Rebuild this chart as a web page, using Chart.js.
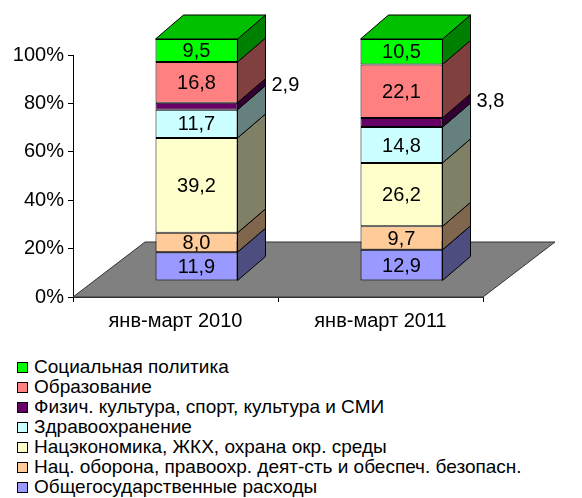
<!DOCTYPE html>
<html>
<head>
<meta charset="utf-8">
<script src="https://cdn.jsdelivr.net/npm/chart.js@4.4.1/dist/chart.umd.min.js"></script>
<style>
    body { margin: 0; background: #fff; }
    #wrap { position: relative; width: 582px; height: 498px; font-family: "Liberation Sans", Arial, sans-serif; }
    #chart { position: absolute; left: 0; top: 0; }
    #legend { position: absolute; left: 17px; top: 357px; margin: 0; padding: 0; list-style: none; }
    #legend li { height: 20px; line-height: 20px; font-size: 19px; color: #000; white-space: nowrap; }
    #legend .box { display: inline-block; width: 9px; height: 9px; border: 1px solid #000; margin-right: 6px; vertical-align: 0px; }
</style>
</head>
<body>
<div id="wrap">
    <canvas id="chart" width="582" height="340"></canvas>
    <ul id="legend"></ul>
</div>
<script>
const categories = ['янв-март 2010', 'янв-март 2011'];

// stack order, bottom to top
const general = [11.9, 12.9];
const defense = [8.0, 9.7];
const economy = [39.2, 26.2];
const health = [11.7, 14.8];
const sport = [2.9, 3.8];
const education = [16.8, 22.1];
const social = [9.5, 10.5];

const yTicks = [0, 20, 40, 60, 80, 100];

const series = [
    { label: 'Общегосударственные расходы', data: general, front: '#9999FF', side: '#4D4D80' },
    { label: 'Нац. оборона, правоохр. деят-сть и обеспеч. безопасн.', data: defense, front: '#FFCC99', side: '#80664D' },
    { label: 'Нацэкономика, ЖКХ, охрана окр. среды', data: economy, front: '#FFFFCC', side: '#808066' },
    { label: 'Здравоохранение', data: health, front: '#CCFFFF', side: '#668080' },
    { label: 'Физич. культура, спорт, культура и СМИ', data: sport, front: '#660066', side: '#330033', outside: true },
    { label: 'Образование', data: education, front: '#FF8080', side: '#804040' },
    { label: 'Социальная политика', data: social, front: '#00FF00', side: '#008000', top: '#00C000' }
];

const FONT = '"Liberation Sans", Arial, sans-serif';
const shiftX = 21, shiftY = -16;   // bars sit inside the floor
const depthX = 28, depthY = 24;    // bar depth
const floorX = 72, floorY = 55;    // floor depth

function fmt(v) {
    return v.toFixed(1).replace('.', ',');
}

const bar3d = {
    id: 'bar3d',
    beforeDatasetsDraw(chart) {
        const ctx = chart.ctx;
        const xs = chart.scales.x;
        const y0 = chart.scales.y.getPixelForValue(0);
        ctx.save();
        ctx.beginPath();
        ctx.moveTo(xs.left, y0);
        ctx.lineTo(xs.right, y0);
        ctx.lineTo(xs.right + floorX, y0 - floorY);
        ctx.lineTo(xs.left + floorX, y0 - floorY);
        ctx.closePath();
        ctx.fillStyle = '#808080';
        ctx.fill();
        ctx.strokeStyle = '#333333';
        ctx.lineWidth = 1;
        ctx.stroke();
        ctx.restore();

        ctx.save();
        ctx.translate(shiftX, shiftY);
    },
    afterDatasetsDraw(chart) {
        const ctx = chart.ctx;
        const last = chart.data.datasets.length - 1;
        ctx.lineWidth = 1;
        ctx.strokeStyle = '#000';
        chart.data.datasets.forEach((ds, i) => {
            const meta = chart.getDatasetMeta(i);
            meta.data.forEach(el => {
                const w = el.width;
                const left = el.x - w / 2, right = el.x + w / 2;
                const top = el.y, bottom = el.base;
                ctx.beginPath();
                ctx.moveTo(right, top);
                ctx.lineTo(right + depthX, top - depthY);
                ctx.lineTo(right + depthX, bottom - depthY);
                ctx.lineTo(right, bottom);
                ctx.closePath();
                ctx.fillStyle = series[i].side;
                ctx.fill();
                ctx.stroke();
                if (i === last) {
                    ctx.beginPath();
                    ctx.moveTo(left, top);
                    ctx.lineTo(left + depthX, top - depthY);
                    ctx.lineTo(right + depthX, top - depthY);
                    ctx.lineTo(right, top);
                    ctx.closePath();
                    ctx.fillStyle = series[i].top;
                    ctx.fill();
                    ctx.stroke();
                }
            });
        });

        ctx.font = '20px ' + FONT;
        ctx.fillStyle = '#000';
        ctx.textBaseline = 'middle';
        chart.data.datasets.forEach((ds, i) => {
            const meta = chart.getDatasetMeta(i);
            meta.data.forEach((el, j) => {
                const text = fmt(ds.data[j]);
                const mid = (el.y + el.base) / 2;
                if (series[i].outside) {
                    ctx.textAlign = 'left';
                    ctx.fillText(text, el.x + el.width / 2 + 34, mid - 21);
                } else {
                    ctx.textAlign = 'center';
                    ctx.fillText(text, el.x, mid + 1);
                }
            });
        });
        ctx.restore();
    }
};

const chart = new Chart(document.getElementById('chart'), {
    type: 'bar',
    data: {
        labels: categories,
        datasets: series.map(s => ({
            label: s.label,
            data: s.data,
            backgroundColor: s.front,
            borderColor: '#000',
            borderWidth: 1,
            borderSkipped: false,
            barPercentage: 0.4,
            categoryPercentage: 1.0
        }))
    },
    options: {
        responsive: false,
        animation: false,
        layout: { padding: { left: 0, top: 55, right: 99, bottom: 0 } },
        plugins: {
            legend: { display: false },
            tooltip: { enabled: false }
        },
        scales: {
            x: {
                stacked: true,
                grid: { drawOnChartArea: false, tickLength: 5, color: '#000' },
                border: { display: true, color: '#333333' },
                ticks: { color: '#000', font: { size: 20, family: FONT }, padding: 7, maxRotation: 0 },
                afterFit(scale) { scale.height = 43; }
            },
            y: {
                stacked: true,
                min: 0,
                max: 100,
                afterBuildTicks(scale) { scale.ticks = yTicks.map(v => ({ value: v })); },
                grid: { drawOnChartArea: false, tickLength: 5, color: '#000' },
                border: { display: true, color: '#000' },
                ticks: {
                    color: '#000',
                    font: { size: 20, family: FONT },
                    padding: 4,
                    callback: v => v + '%'
                },
                afterFit(scale) { scale.width = 73; }
            }
        }
    },
    plugins: [bar3d]
});

const legend = document.getElementById('legend');
series.slice().reverse().forEach(s => {
    const li = document.createElement('li');
    const box = document.createElement('span');
    box.className = 'box';
    box.style.background = s.front;
    li.appendChild(box);
    li.appendChild(document.createTextNode(s.label));
    legend.appendChild(li);
});
</script>
</body>
</html>
